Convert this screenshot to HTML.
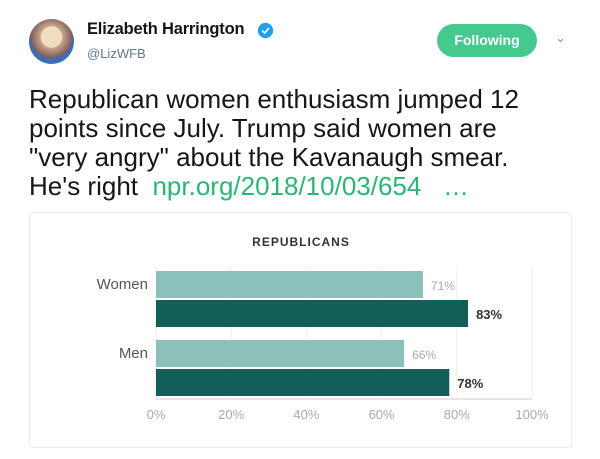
<!DOCTYPE html>
<html><head><meta charset="utf-8"><style>
body{margin:0;width:600px;height:459px;background:#fff;font-family:"Liberation Sans",sans-serif;position:relative;overflow:hidden}
.abs{position:absolute}
</style></head><body>
<div class="abs" style="left:29px;top:19px;width:45px;height:45px;border-radius:50%;background:radial-gradient(circle at 50% 40%,#f1dcc4 0 30%,#c9a88a 31%,#7a5a60 60%,#3b6fb0 61%);"></div>
<div class="abs" style="left:87px;top:20px;font-size:16.5px;font-weight:bold;color:#14171a;letter-spacing:-0.2px">Elizabeth Harrington</div>
<svg class="abs" style="left:257px;top:22px" width="17" height="17" viewBox="0 0 20 20"><circle cx="10" cy="10" r="9" fill="#1da1f2"/><path d="M6 10l3 3 5-6" stroke="#fff" stroke-width="2" fill="none"/></svg>
<div class="abs" style="left:87px;top:46px;font-size:13px;color:#657786">@LizWFB</div>
<div class="abs" style="left:437px;top:24px;width:100px;height:33px;border-radius:17px;background:#45c98f;color:#fff;font-weight:bold;font-size:14px;line-height:33px;text-align:center">Following</div>
<div class="abs" style="left:555px;top:30px;font-size:13px;color:#8899a6">&#8964;</div>
<div class="abs" style="left:29px;top:85px;width:580px;font-size:26px;line-height:29px;color:#14171a;white-space:nowrap">Republican women enthusiasm jumped 12<br>points since July. Trump said women are<br>"very angry" about the Kavanaugh smear.<br>He's right &nbsp;<span style="color:#2bb673">npr.org/2018/10/03/654 &nbsp; …</span></div>
<div class="abs" style="left:29px;top:212px;width:541px;height:234px;border:1px solid #e6ecf0;border-radius:4px"></div>
<svg class="abs" id="chart" style="left:0;top:0" width="600" height="459"></svg>
<script>
const categories=["Women","Men"];
const julyValues=[71,66];
const octValues=[83,78];
const ticks=[0,20,40,60,80,100];
const svg=document.getElementById('chart');
const NS='http://www.w3.org/2000/svg';
const x0=156,x1=532;
const xs=v=>x0+(x1-x0)*v/100;
function mk(t,a,name){const e=document.createElementNS(NS,t);for(const k in a)e.setAttribute(k,a[k]);


svg.appendChild(e);return e;}
let t=mk('text',{x:301,y:246,'text-anchor':'middle','font-size':12,'font-weight':'bold','letter-spacing':1,fill:'#333'},'chart-title');t.textContent='REPUBLICANS';
ticks.forEach(v=>{mk('line',{x1:xs(v),x2:xs(v),y1:266,y2:400,stroke:'#eee'},'gridline');
let l=mk('text',{x:xs(v),y:419,'text-anchor':'middle','font-size':13,fill:'#aaa'},'x-tick-label');l.textContent=v+'%';});
mk('line',{x1:x0,x2:x1,y1:399,y2:399,stroke:'#ccc'},'x-axis');
categories.forEach((c,i)=>{const y=271+i*69;
let l=mk('text',{x:148,y:y+18,'text-anchor':'end','font-size':15,fill:'#555'},'category-label');l.textContent=c;
mk('rect',{x:x0,y:y,width:xs(julyValues[i])-x0,height:27,fill:'#8cc1bb'},'bar-july');
let a=mk('text',{x:xs(julyValues[i])+8,y:y+19,'font-size':12,fill:'#aaa'},'value-label');a.textContent=julyValues[i]+'%';
mk('rect',{x:x0,y:y+29,width:xs(octValues[i])-x0,height:27,fill:'#125f59'},'bar-october');
let b=mk('text',{x:xs(octValues[i])+8,y:y+48,'font-size':13,'font-weight':'bold',fill:'#333'},'value-label');b.textContent=octValues[i]+'%';});
</script>
</body></html>
